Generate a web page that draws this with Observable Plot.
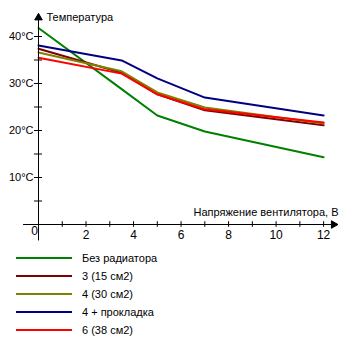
<!DOCTYPE html>
<html>
<head>
<meta charset="utf-8">
<script src="https://cdn.jsdelivr.net/npm/d3@7"></script>
<script src="https://cdn.jsdelivr.net/npm/@observablehq/plot@0.6"></script>
<style>
  html, body { margin: 0; padding: 0; background: #fff; }
  body { width: 350px; height: 350px; overflow: hidden; font-family: "Liberation Sans", Arial, sans-serif; }
  #legend { position: relative; padding-top: 4px; font-size: 11px; color: #000; }
  .row { position: relative; height: 18px; }
  .sw { position: absolute; left: 16px; top: 8px; width: 56px; height: 2px; }
  .lb { position: absolute; left: 82px; top: 2px; line-height: 14px; white-space: nowrap; }
</style>
</head>
<body>
<div id="chart"></div>
<div id="legend"></div>
<script>
const volts = [0, 3.5, 5, 7, 12];
const seriesNames = ["Без радиатора", "3 (15 см2)", "4 (30 см2)", "4 + прокладка", "6 (38 см2)"];
const seriesColors = ["#008000", "#800000", "#808000", "#000080", "#ff0000"];
const noRadiator = [41.8, 28.8, 23.2, 19.8, 14.3];
const rad15 = [37.4, 32.3, 27.7, 24.3, 21.1];
const rad30 = [36.6, 32.6, 28.1, 24.9, 21.5];
const rad30pad = [38.1, 34.9, 31.1, 27.0, 23.2];
const rad38 = [35.5, 32.1, 27.7, 24.5, 21.7];
const xTickVals = [1, 2, 3, 4, 5, 6, 7, 8, 9, 10, 11, 12];
const xLabelVals = [2, 4, 6, 8, 10, 12];
const yTickVals = [5, 10, 15, 20, 25, 30, 35, 40];
const yLabelVals = [10, 20, 30, 40];
const yTitle = "Температура";
const xTitle = "Напряжение вентилятора, В";

const seriesValues = [noRadiator, rad15, rad30, rad30pad, rad38];
const rows = [];
seriesNames.forEach((name, s) => {
  volts.forEach((v, i) => rows.push({series: name, v, t: seriesValues[s][i]}));
});

const font = "Liberation Sans, Arial, sans-serif";

const chart = Plot.plot({
  width: 350,
  height: 245,
  marginLeft: 38,
  marginRight: 15,
  marginTop: 12.5,
  marginBottom: 21,
  style: {fontFamily: font, fontSize: "11px", color: "#000", background: "#fff"},
  x: {domain: [0, 12.5], axis: null},
  y: {domain: [0, 45], axis: null},
  color: {domain: seriesNames, range: seriesColors},
  marks: [
    Plot.line(rows, {x: "v", y: "t", z: "series", stroke: "series", strokeWidth: 2}),
    // axes
    Plot.ruleY([0], {x1: -0.63, x2: 12.4, stroke: "#000", strokeWidth: 1}),
    Plot.ruleX([0], {y1: -3.5, y2: 43.5, stroke: "#000", strokeWidth: 1}),
    Plot.ruleX(xTickVals, {x: d => d, y1: -0.6, y2: 0.6, stroke: "#000"}),
    Plot.ruleY(yTickVals, {y: d => d, x1: -0.17, x2: 0.17, stroke: "#000"}),
    Plot.dot([0], {x: 0, y: 44, symbol: "triangle", r: 2.8, fill: "#000", stroke: "#000", strokeWidth: 1}),
    Plot.dot([0], {x: 12.42, y: 0, symbol: "triangle", r: 2.8, rotate: 90, fill: "#000", stroke: "#000", strokeWidth: 1}),
    Plot.text(xLabelVals, {x: d => d, y: 0, text: d => String(d), dy: 11, fontSize: 12}),
    Plot.text([0], {x: 0, y: 0, text: d => String(d), dx: -4, dy: 7, fontSize: 12}),
    Plot.text(yLabelVals, {x: 0, y: d => d, text: d => d + "°C", textAnchor: "end", dx: -5, fontSize: 11}),
    Plot.text([yTitle], {x: 0, y: 44, text: d => d, textAnchor: "start", dx: 8, fontSize: 11}),
    Plot.text([xTitle], {x: 12.5, y: 0, text: d => d, textAnchor: "end", dx: 3, dy: -12, fontSize: 11})
  ]
});
document.getElementById("chart").appendChild(chart);

const legend = document.getElementById("legend");
seriesNames.forEach((name, i) => {
  const row = document.createElement("div");
  row.className = "row";
  const sw = document.createElement("span");
  sw.className = "sw";
  sw.style.background = seriesColors[i];
  const lb = document.createElement("span");
  lb.className = "lb";
  lb.textContent = name;
  row.appendChild(sw);
  row.appendChild(lb);
  legend.appendChild(row);
});
</script>
</body>
</html>
